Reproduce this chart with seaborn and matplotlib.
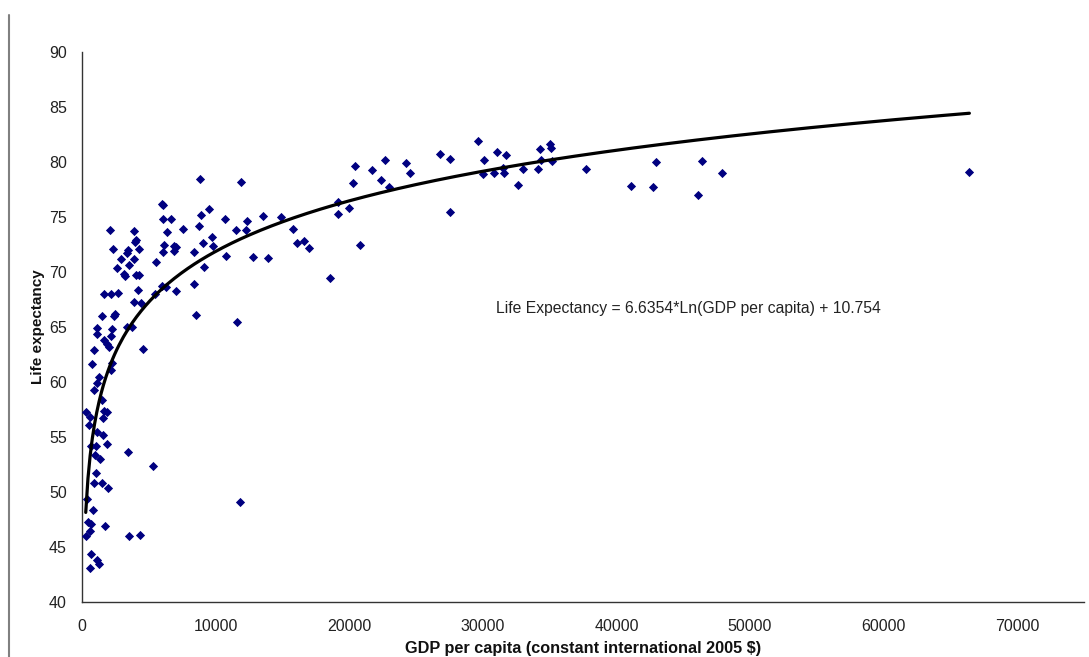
import numpy as np
import pandas as pd
import matplotlib
matplotlib.use("Agg")
import matplotlib.pyplot as plt
from matplotlib.lines import Line2D
import seaborn as sns

# GDP per capita (constant international 2005 $) for each country
gdp_per_capita = [
    8810, 11870, 6050, 5990, 8930, 9500, 10670, 6100, 6640, 2090,
    3900, 6370, 7540, 8730, 11550, 4010, 3960, 2290, 4280, 3460,
    3380, 6140, 6920, 7070, 6870, 9050, 9720, 9800, 8360, 6050,
    2890, 3880, 3490, 2630, 5520, 9110, 10750, 3130, 3230, 4030,
    4250, 8380, 5990, 6270, 7020, 4160, 1660, 2160, 2710, 5450,
    3900, 4380, 1470, 2390, 2460, 8560, 11620,
    1120, 2220, 1120, 3340, 3750, 2160, 1660, 1890, 2040, 900,
    4530, 720, 2240, 2160, 1270, 1100, 900, 1470, 280, 620,
    520, 1660, 1890, 1570, 1100, 1590, 650, 1070, 1840, 970,
    1370, 3460, 5280, 1020, 900, 1470, 1920, 370, 840, 11810,
    470, 670, 620, 300, 1720, 3530, 4310, 650, 1120, 1270,
    620,
    29630, 26820, 27520, 20450, 22710, 24280, 21740, 24550, 20300, 22390,
    22960, 19160, 19180, 20000, 27520, 12370, 12290, 13530, 14900, 15820,
    16100, 16640, 17020, 12810, 13930, 20820, 18560,
    30100, 31100, 31740, 30050, 30820, 31550, 31520, 32640, 33010, 34260,
    35000, 35100, 34350, 34110, 35200, 37740, 41100, 42760, 42940, 46100,
    46400, 47940, 66420,
]

# Life expectancy at birth (years)
life_expectancy = [
    78.5, 78.2, 76.1, 76.2, 75.2, 75.7, 74.8, 74.8, 74.8, 73.8,
    73.7, 73.6, 73.9, 74.2, 73.8, 72.9, 72.7, 72.1, 72.1, 72.0,
    71.7, 72.5, 72.4, 72.3, 71.9, 72.6, 73.2, 72.4, 71.8, 71.8,
    71.2, 71.2, 70.6, 70.4, 70.9, 70.5, 71.5, 69.8, 69.6, 69.7,
    69.7, 68.9, 68.7, 68.6, 68.3, 68.4, 68.0, 68.0, 68.1, 68.0,
    67.3, 67.2, 66.0, 66.0, 66.2, 66.1, 65.5,
    64.9, 64.8, 64.4, 65.0, 65.0, 64.2, 63.8, 63.5, 63.2, 62.9,
    63.0, 61.6, 61.7, 61.1, 60.5, 59.9, 59.3, 58.4, 57.3, 56.8,
    56.1, 57.4, 57.3, 56.7, 55.5, 55.2, 54.2, 54.2, 54.4, 53.4,
    53.0, 53.6, 52.4, 51.7, 50.8, 50.8, 50.4, 49.4, 48.4, 49.1,
    47.3, 47.1, 46.5, 46.0, 46.9, 46.0, 46.1, 44.4, 43.8, 43.5,
    43.1,
    81.9, 80.7, 80.3, 79.6, 80.2, 79.9, 79.3, 79.0, 78.1, 78.4,
    77.7, 76.4, 75.3, 75.8, 75.5, 74.6, 73.8, 75.1, 75.0, 73.9,
    72.6, 72.8, 72.2, 71.4, 71.3, 72.5, 69.5,
    80.2, 80.9, 80.6, 78.9, 79.0, 79.0, 79.5, 77.9, 79.4, 81.2,
    81.6, 81.3, 80.2, 79.4, 80.1, 79.4, 77.8, 77.7, 80.0, 77.0,
    80.1, 79.0, 79.1,
]

# Logarithmic trend line coefficients
trend_slope = 6.6354
trend_intercept = 10.754

x_ticks = [0, 10000, 20000, 30000, 40000, 50000, 60000, 70000]
x_tick_labels = ["0", "10000", "20000", "30000", "40000", "50000", "60000", "70000"]
y_ticks = [40, 45, 50, 55, 60, 65, 70, 75, 80, 85, 90]
y_tick_labels = ["40", "45", "50", "55", "60", "65", "70", "75", "80", "85", "90"]

sns.set_style("white")
plt.rcParams["font.family"] = ["Liberation Sans", "DejaVu Sans"]

df = pd.DataFrame({"gdp": gdp_per_capita, "life": life_expectancy})

W, H = 1089, 657
fig = plt.figure(figsize=(W / 100, H / 100), dpi=100)
ax = fig.add_axes([82 / W, 1 - 602 / H, 1002 / W, 550 / H])

sns.scatterplot(data=df, x="gdp", y="life", ax=ax, marker="D", s=22,
                color="#000080", linewidth=0, zorder=3)

# trend line over the observed GDP range
trend_x = np.linspace(df["gdp"].min(), df["gdp"].max(), 400)
trend = pd.DataFrame({"gdp": trend_x,
                      "life": trend_slope * np.log(trend_x) + trend_intercept})
sns.lineplot(data=trend, x="gdp", y="life", ax=ax, color="black",
             linewidth=2.3, zorder=4)

ax.text(31000, 66.7,
        f"Life Expectancy = {trend_slope}*Ln(GDP per capita) + {trend_intercept}",
        fontsize=11.3, color="#222222", va="center", ha="left")

ax.set_xlim(0, 75000)
ax.set_ylim(40, 90)
ax.set_xticks(x_ticks)
ax.set_xticklabels(x_tick_labels)
ax.set_yticks(y_ticks)
ax.set_yticklabels(y_tick_labels)

for side in ["top", "right"]:
    ax.spines[side].set_visible(False)
for side in ["left", "bottom"]:
    ax.spines[side].set_color("#333333")
    ax.spines[side].set_linewidth(1.0)

ax.tick_params(axis="both", which="major", direction="out", length=5,
               width=1.0, color="#333333", labelsize=11.5,
               labelcolor="#222222")
ax.tick_params(axis="x", pad=7)
ax.tick_params(axis="y", pad=6)

ax.set_xlabel("GDP per capita (constant international 2005 $)",
              fontsize=11.7, fontweight="bold", color="#111111")
ax.set_ylabel("Life expectancy", fontsize=11, fontweight="bold",
              color="#111111")
ax.xaxis.label.set_va("center")
ax.xaxis.set_label_coords(0.5, (602 - 648) / 550)
ax.yaxis.label.set_va("center")
ax.yaxis.set_label_coords((38 - 82) / 1002, 0.5)

# chart-area border on the left edge
fig.add_artist(Line2D([9 / W, 9 / W], [0, 1 - 15 / H],
                      transform=fig.transFigure, color="#808080",
                      linewidth=1.5))

fig.savefig("out.png", dpi=100, facecolor="white")
